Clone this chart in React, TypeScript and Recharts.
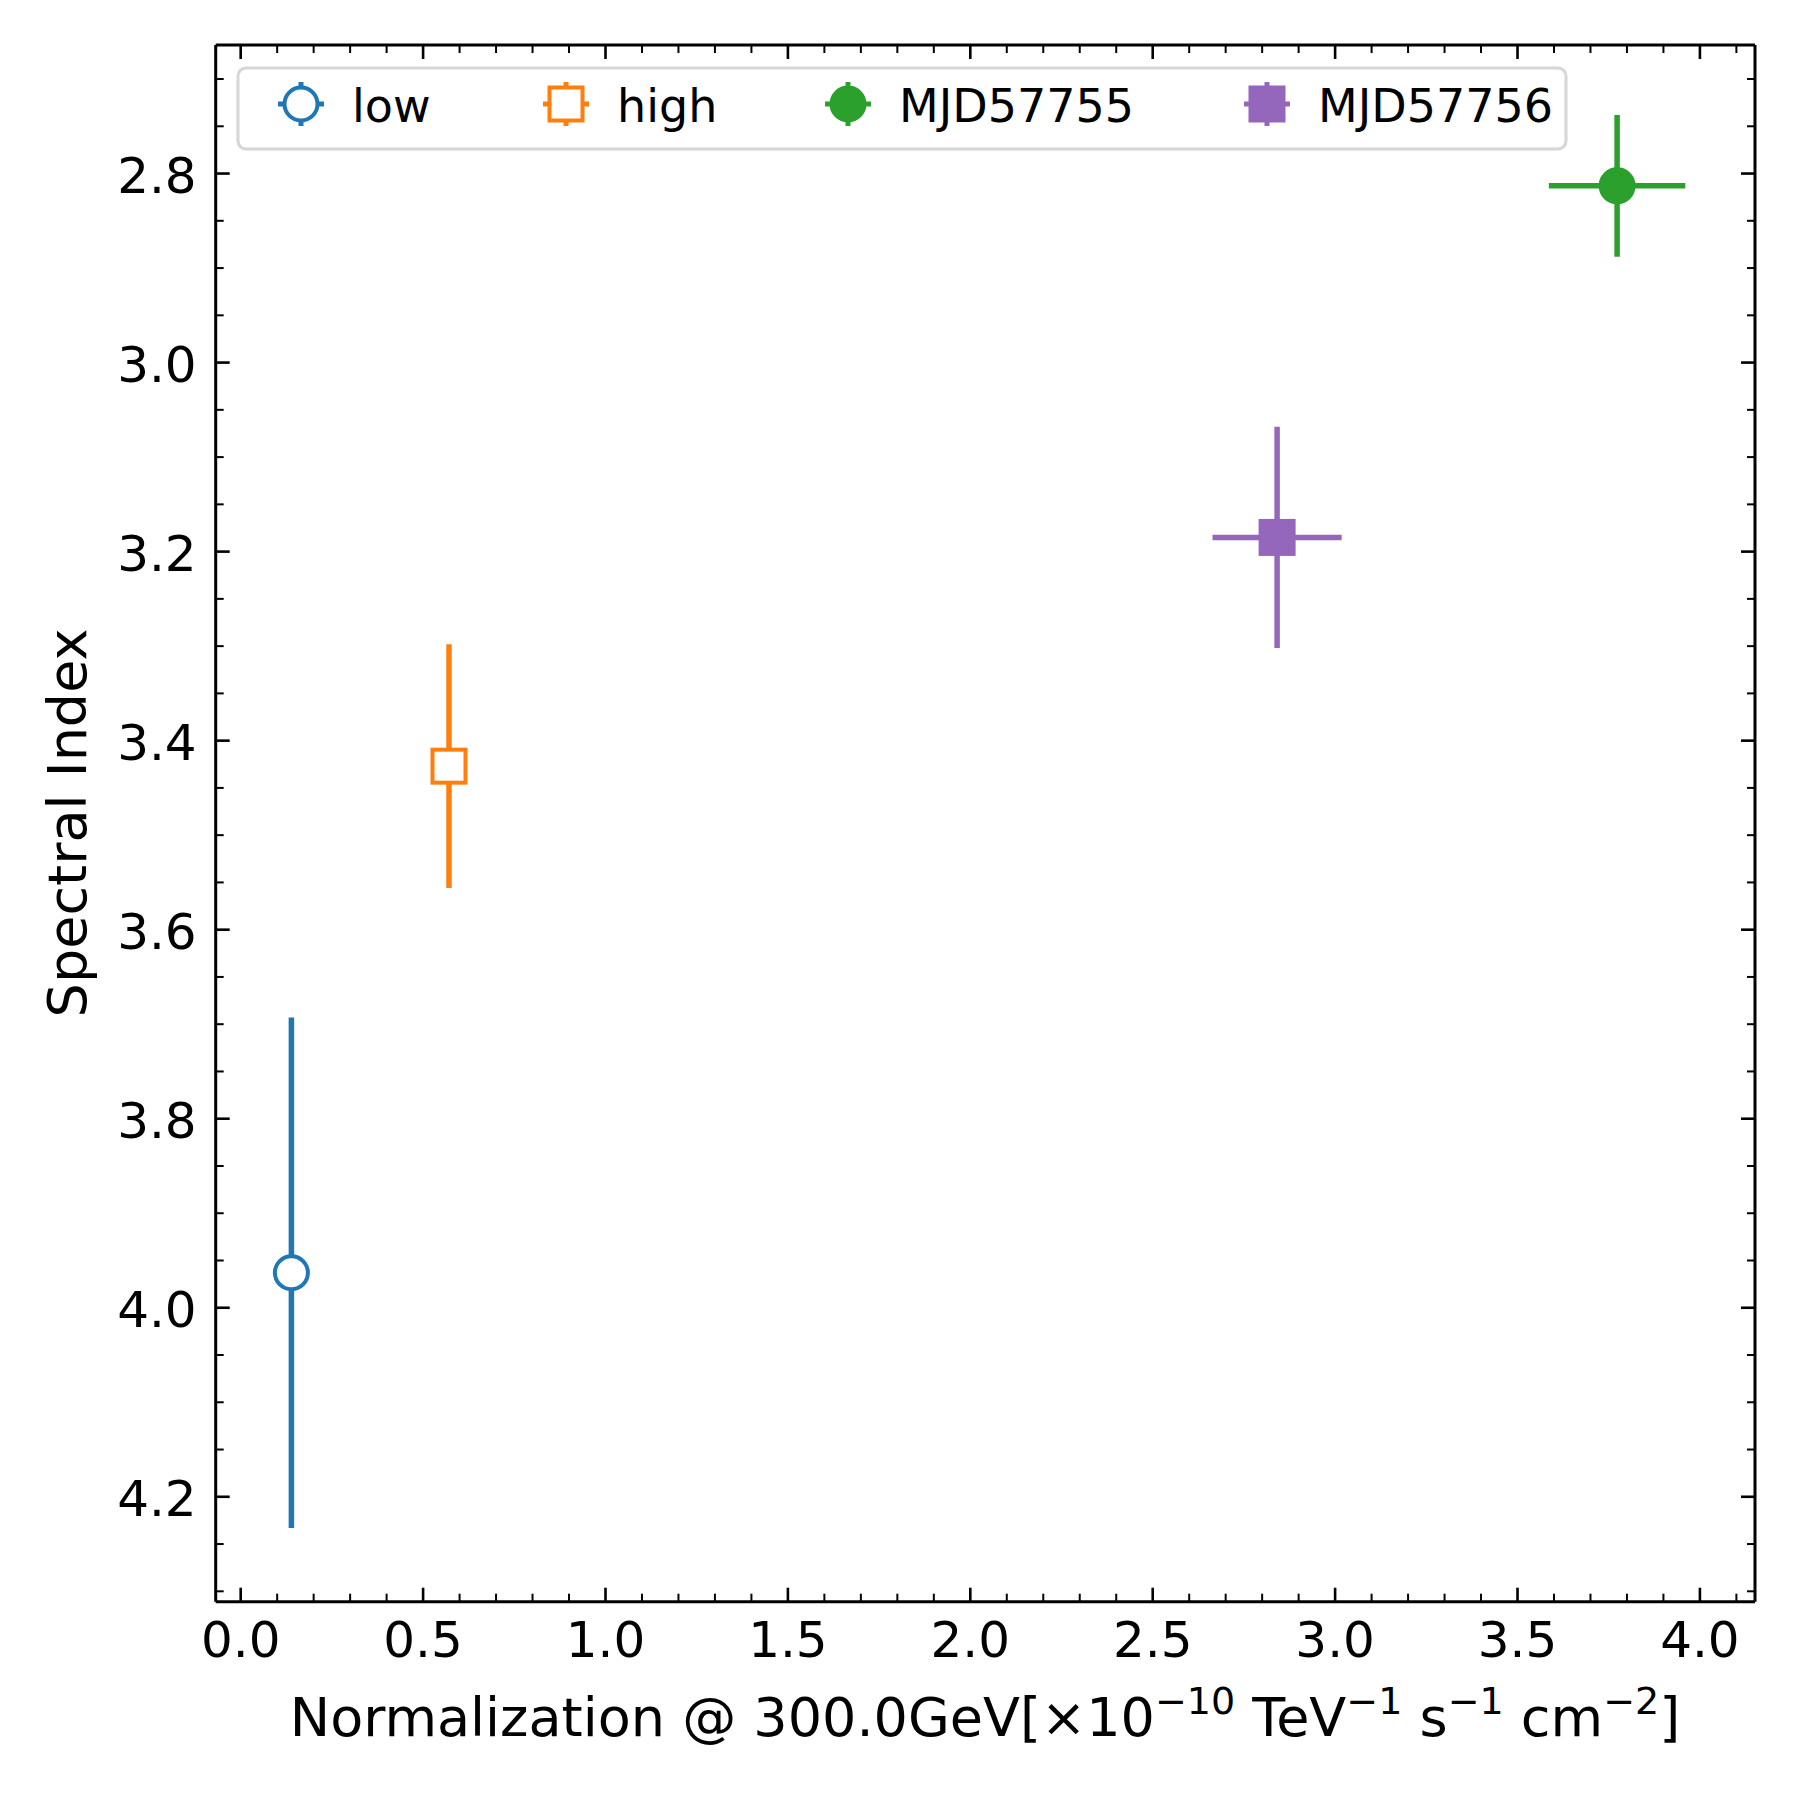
import { ScatterChart, Scatter, XAxis, YAxis, ErrorBar } from "recharts";

const seriesNames = ["low", "high", "MJD57755", "MJD57756"];
const seriesColors = ["#1f77b4", "#ff7f0e", "#2ca02c", "#9467bd"];
const seriesShapes = ["circle", "square", "circle", "square"];
const seriesFilled = [false, false, true, true];

const normValues = [0.139, 0.571, 3.773, 2.841];
const normErr = [0, 0, 0.187, 0.177];
const indexValues = [3.963, 3.427, 2.813, 3.185];
const indexErr = [0.27, 0.129, 0.075, 0.117];

const xMajorTicks = [0, 0.5, 1, 1.5, 2, 2.5, 3, 3.5, 4];
const xMinorTicks = [
  0.1, 0.2, 0.3, 0.4, 0.6, 0.7, 0.8, 0.9, 1.1, 1.2, 1.3, 1.4, 1.6, 1.7, 1.8, 1.9,
  2.1, 2.2, 2.3, 2.4, 2.6, 2.7, 2.8, 2.9, 3.1, 3.2, 3.3, 3.4, 3.6, 3.7, 3.8, 3.9, 4.1,
];
const yMajorTicks = [2.8, 3.0, 3.2, 3.4, 3.6, 3.8, 4.0, 4.2];
const yMinorTicks = [
  2.7, 2.75, 2.85, 2.9, 2.95, 3.05, 3.1, 3.15, 3.25, 3.3, 3.35, 3.45, 3.5, 3.55,
  3.65, 3.7, 3.75, 3.85, 3.9, 3.95, 4.05, 4.1, 4.15, 4.25, 4.3,
];

const xDomain = [-0.0685, 4.151];
const yDomain = [2.664, 4.311];

const FONT = "DejaVu Sans";
const MAJOR_LEN = 14;
const MINOR_LEN = 8;

const isMajor = (v: number, majors: number[]) => majors.some((m) => Math.abs(m - v) < 1e-6);

const makeTick = (side: "bottom" | "top" | "left" | "right") => (props: any) => {
  const { x, y, payload } = props;
  const v = payload.value as number;
  const major = isMajor(v, side === "bottom" || side === "top" ? xMajorTicks : yMajorTicks);
  const len = major ? MAJOR_LEN : MINOR_LEN;
  const sw = major ? 2.6 : 2;
  let line;
  if (side === "bottom") line = <line x1={x} x2={x} y1={y} y2={y - len} stroke="#000" strokeWidth={sw} />;
  else if (side === "top") line = <line x1={x} x2={x} y1={y} y2={y + len} stroke="#000" strokeWidth={sw} />;
  else if (side === "left") line = <line x1={x} x2={x + len} y1={y} y2={y} stroke="#000" strokeWidth={sw} />;
  else line = <line x1={x} x2={x - len} y1={y} y2={y} stroke="#000" strokeWidth={sw} />;
  return (
    <g>
      {line}
      {major && side === "bottom" && (
        <text x={x} y={y + 55} textAnchor="middle" fontSize={50} fontFamily={FONT} fill="#000">
          {v.toFixed(1)}
        </text>
      )}
      {major && side === "left" && (
        <text x={x - 19} y={y + 19} textAnchor="end" fontSize={50} fontFamily={FONT} fill="#000">
          {v.toFixed(1)}
        </text>
      )}
    </g>
  );
};

function Marker({ cx, cy, shape, color, filled }: any) {
  if (cx == null || cy == null) return <g />;
  const fill = filled ? color : "#fff";
  if (shape === "square") {
    return <rect x={cx - 16.5} y={cy - 16.5} width={33} height={33} fill={fill} stroke={color} strokeWidth={4} />;
  }
  return <circle cx={cx} cy={cy} r={16.5} fill={fill} stroke={color} strokeWidth={4} />;
}

const seriesData = seriesNames.map((name, i) => [
  { x: normValues[i], y: indexValues[i], xErr: normErr[i], yErr: indexErr[i], name },
]);

const axisLine = { stroke: "#000", strokeWidth: 3 };
const legendMarkerX = [301, 566, 848, 1267];

function LegendOverlay() {
  return (
    <svg width={1800} height={200} style={{ position: "absolute", left: 0, top: 0 }}>
      <rect x={238} y={68} width={1328} height={81} rx={8} fill="#fff" stroke="#d6d6d6" strokeWidth={3} />
      {seriesNames.map((name, i) => {
        const cx = legendMarkerX[i];
        const cy = 104;
        const c = seriesColors[i];
        return (
          <g key={name}>
            <line x1={cx} x2={cx} y1={cy - 22} y2={cy + 22} stroke={c} strokeWidth={5} />
            <line x1={cx - 23} x2={cx + 23} y1={cy} y2={cy} stroke={c} strokeWidth={5} />
            <Marker cx={cx} cy={cy} shape={seriesShapes[i]} color={c} filled={seriesFilled[i]} />
            <text x={cx + 51} y={122} fontSize={46} fontFamily={FONT} fill="#000">
              {name}
            </text>
          </g>
        );
      })}
    </svg>
  );
}

export default function App() {
  return (
    <div style={{ position: "absolute", left: 0, top: 0, width: 1800, height: 1800, background: "#fff" }}>
      <ScatterChart width={1800} height={1800} margin={{ top: 44, right: 44, bottom: 0, left: 0 }}>
        <XAxis
          xAxisId="b"
          type="number"
          dataKey="x"
          domain={xDomain}
          allowDataOverflow
          ticks={[...xMajorTicks, ...xMinorTicks]}
          interval={0}
          height={198.3}
          tickSize={0}
          tickMargin={0}
          tickLine={false}
          axisLine={axisLine}
          tick={makeTick("bottom")}
        />
        <XAxis
          xAxisId="t"
          orientation="top"
          type="number"
          dataKey="x"
          domain={xDomain}
          allowDataOverflow
          ticks={[...xMajorTicks, ...xMinorTicks]}
          interval={0}
          height={1}
          tickSize={0}
          tickMargin={0}
          tickLine={false}
          axisLine={axisLine}
          tick={makeTick("top")}
        />
        <YAxis
          yAxisId="l"
          type="number"
          dataKey="y"
          domain={yDomain}
          reversed
          allowDataOverflow
          ticks={[...yMajorTicks, ...yMinorTicks]}
          interval={0}
          width={215.7}
          tickSize={0}
          tickMargin={0}
          tickLine={false}
          axisLine={axisLine}
          tick={makeTick("left")}
        />
        <YAxis
          yAxisId="r"
          orientation="right"
          type="number"
          dataKey="y"
          domain={yDomain}
          reversed
          allowDataOverflow
          ticks={[...yMajorTicks, ...yMinorTicks]}
          interval={0}
          width={1}
          tickSize={0}
          tickMargin={0}
          tickLine={false}
          axisLine={axisLine}
          tick={makeTick("right")}
        />
        {/* invisible series so the mirrored top/right axes get built */}
        <Scatter
          data={seriesData[0]}
          xAxisId="t"
          yAxisId="r"
          isAnimationActive={false}
          shape={() => <g />}
          legendType="none"
        />
        {seriesNames.map((name, i) => (
          <Scatter
            key={name}
            name={name}
            data={seriesData[i]}
            xAxisId="b"
            yAxisId="l"
            isAnimationActive={false}
            shape={(p: any) => (
              <Marker cx={p.cx} cy={p.cy} shape={seriesShapes[i]} color={seriesColors[i]} filled={seriesFilled[i]} />
            )}
          >
            <ErrorBar dataKey="yErr" direction="y" width={0} stroke={seriesColors[i]} strokeWidth={5.5} isAnimationActive={false} />
            <ErrorBar dataKey="xErr" direction="x" width={0} stroke={seriesColors[i]} strokeWidth={5.5} isAnimationActive={false} />
          </Scatter>
        ))}
      </ScatterChart>
      <svg width={1800} height={1800} style={{ position: "absolute", left: 0, top: 0, pointerEvents: "none" }}>
        <text
          transform="translate(86, 823) rotate(-90)"
          textAnchor="middle"
          fontSize={54}
          fontFamily={FONT}
          fill="#000"
        >
          Spectral Index
        </text>
        <text x={985} y={1736} textAnchor="middle" fontSize={54} fontFamily={FONT} fill="#000">
          <tspan>Normalization @ 300.0GeV[×10</tspan>
          <tspan dy={-22} fontSize={38}>−10</tspan>
          <tspan dy={22}> TeV</tspan>
          <tspan dy={-22} fontSize={38}>−1</tspan>
          <tspan dy={22}> s</tspan>
          <tspan dy={-22} fontSize={38}>−1</tspan>
          <tspan dy={22}> cm</tspan>
          <tspan dy={-22} fontSize={38}>−2</tspan>
          <tspan dy={22}>]</tspan>
        </text>
      </svg>
      <LegendOverlay />
    </div>
  );
}
